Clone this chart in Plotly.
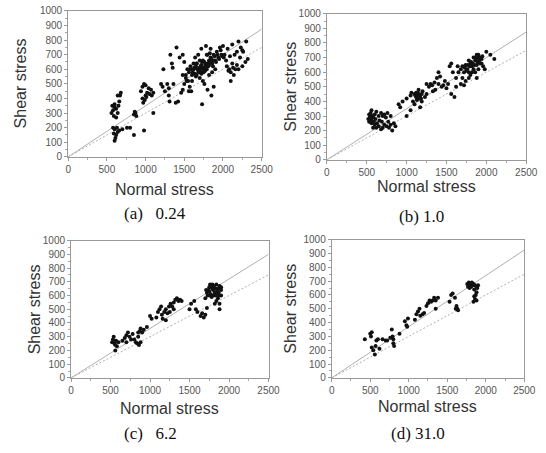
import plotly.graph_objects as go

W, H = 546, 453

# ---------- data ----------
a_x = [600, 610, 620, 590, 640, 660, 600, 630, 580, 700, 760, 800, 850, 980,
       560, 580, 600, 620, 640, 650, 660, 670, 680, 640, 600, 590, 620, 570,
       850, 870, 880, 860,
       940, 960, 980, 1000, 1000, 1020, 1050, 1070, 1100, 1100, 970, 990, 1010, 960, 1040, 1080,
       1200, 1220, 1230, 1250, 1280, 1300, 1310, 1320, 1340, 1350, 1390, 1400, 1420, 1360, 1300,
       1460, 1480, 1500, 1520, 1540, 1560, 1480, 1440, 1500, 1560, 1580, 1590, 1600, 1520,
       1620, 1650, 1680, 1700, 1720, 1740, 1760, 1780, 1800, 1820, 1840, 1860, 1880, 1900,
       1920, 1940, 1960, 1980, 2000, 1660, 1700, 1740, 1760, 1800, 1730, 1850, 1880, 1640,
       1680, 1720, 1780, 1820, 1860, 1900, 1610, 1630, 1660, 1690, 1710, 1730, 1750, 1770,
       1790, 1810, 1830, 1850, 1870, 1890, 1910, 1930, 1950, 1970, 1990, 1600, 1640, 1670,
       1700, 1750, 1790, 1830, 1870, 1690, 1720, 1760, 1800, 1840, 1550, 1570, 1620, 1650,
       2050, 2080, 2100, 2120, 2150, 2180, 2200, 2250, 2300, 2320, 2290, 2100, 2140, 2160,
       2200, 2020, 2060, 2120, 2220, 2250, 2040, 2070, 2130, 2180, 2230, 2260, 2010, 2090,
       1580, 1610, 1640, 1680, 1710, 1740, 1770, 1660, 1700, 1740, 1780, 1820, 1530, 1480]
a_y = [110, 130, 150, 160, 170, 180, 190, 200, 200, 190, 200, 200, 150, 180,
       300, 320, 340, 330, 300, 350, 380, 420, 440, 420, 360, 280, 270, 350,
       290, 300, 280, 310,
       450, 480, 500, 490, 420, 440, 430, 460, 440, 300, 370, 390, 410, 400, 470, 420,
       500, 480, 600, 450, 500, 420, 380, 700, 640, 610, 370, 750, 380, 500, 470,
       440, 460, 500, 560, 600, 450, 700, 680, 650, 580, 620, 450, 520, 540,
       600, 620, 590, 610, 630, 600, 650, 620, 640, 660, 680, 640, 700, 660,
       720, 680, 750, 700, 760, 560, 540, 520, 500, 460, 360, 420, 480, 680,
       700, 740, 760, 560, 580, 600, 580, 610, 640, 580, 620, 650, 590, 630,
       600, 620, 650, 670, 620, 690, 650, 700, 670, 730, 690, 560, 570, 600,
       660, 580, 700, 710, 660, 590, 570, 610, 700, 740, 520, 480, 640, 550,
       620, 600, 580, 640, 700, 720, 790, 730, 790, 670, 650, 520, 560, 600,
       600, 700, 740, 770, 680, 620, 660, 590, 610, 630, 750, 720, 680, 690,
       600, 570, 610, 600, 580, 610, 590, 640, 600, 660, 610, 630, 520, 560]

b_x = [520, 540, 550, 560, 530, 560, 580, 600, 620, 650, 680, 700, 720, 740, 760, 800,
       600, 620, 650, 680, 700, 720, 750, 780, 800, 820, 840, 860, 580, 560, 770, 690,
       530, 545, 555, 570, 590, 610, 630, 660,
       900, 920, 950, 1000, 1050, 1000, 1050, 1080, 1100, 1100, 1120, 1140, 1160, 1180,
       1200, 1150, 1130, 1170, 1190, 1060, 1230, 1250, 1280, 1300, 1320, 1350, 1380, 1400,
       1420, 1440, 1460, 1480, 1500, 1520, 1400, 1360, 1330, 1250, 1560, 1600, 1620,
       1540, 1560, 1580, 1620, 1650, 1680, 1700, 1720, 1740, 1760, 1780, 1800, 1820,
       1840, 1860, 1880, 1900, 1920, 1940, 1960, 1980, 2000, 2050, 2100, 1700, 1740,
       1780, 1800, 1820, 1860, 1900, 1680, 1720, 1880, 1640, 1780, 1850, 1880, 1920, 1950,
       1730, 1770, 1810, 1830, 1870, 1890, 1910, 1750, 1790, 1840, 1860, 1900, 1940,
       1110, 1130, 1150, 1170, 1190, 1140, 1160, 1120]
b_y = [280, 300, 320, 340, 260, 250, 290, 310, 330, 300, 320, 300, 310, 290, 320, 300,
       240, 220, 230, 210, 220, 240, 230, 220, 240, 200, 250, 230, 220, 270, 260, 260,
       310, 290, 270, 300, 260, 280, 250, 270,
       380, 360, 400, 300, 340, 420, 440, 400, 380, 450, 430, 460, 440, 420,
       470, 480, 410, 360, 400, 460, 430, 450, 500, 520, 510, 530, 560, 600,
       570, 500, 510, 540, 490, 520, 520, 480, 470, 520, 450, 430, 500,
       640, 660, 600, 560, 600, 620, 640, 600, 650, 620, 680, 660, 640,
       700, 680, 720, 700, 660, 690, 640, 620, 740, 720, 690, 560, 540,
       560, 580, 600, 600, 620, 520, 510, 560, 640, 600, 650, 650, 700, 710,
       630, 650, 670, 660, 690, 670, 680, 610, 640, 620, 700, 720, 660,
       440, 420, 450, 430, 450, 440, 420, 460]

c_x = [520, 530, 540, 550, 560, 570, 580, 560, 600, 540, 650, 680, 700, 720, 700, 740,
       760, 780, 800, 820, 840, 860, 880, 850, 870, 900, 880, 850, 920, 960,
       1000, 1020, 1080, 1100, 1120, 1140, 1150, 1160, 1180, 1200, 1220, 1240, 1260,
       1280, 1300, 1320, 1340, 1360, 1380, 1400, 1200, 1250, 1300,
       1500, 1520, 1560, 1580, 1600, 1640, 1660, 1680, 1700, 1720,
       1700, 1720, 1740, 1760, 1780, 1800, 1820, 1840, 1860, 1880, 1900, 1760, 1800,
       1840, 1860, 1880, 1900, 1820, 1880, 1860, 1900, 1780, 1730, 1750, 1770, 1790,
       1810, 1830, 1850, 1870, 1890, 1710, 1750, 1790, 1830, 1870]
c_y = [260, 280, 300, 250, 240, 270, 230, 200, 260, 270, 270, 290, 310, 330, 260, 300,
       280, 320, 280, 260, 250, 240, 260, 300, 340, 330, 360, 330, 350, 370,
       450, 430, 440, 480, 500, 520, 460, 430, 480, 500, 470, 520, 540,
       520, 550, 570, 580, 560, 570, 560, 420, 480, 500,
       500, 540, 560, 500, 480, 450, 470, 440, 460, 510,
       580, 620, 640, 600, 660, 640, 620, 680, 650, 670, 640, 680, 600,
       560, 580, 540, 600, 540, 500, 620, 660, 590, 600, 630, 610, 650,
       670, 650, 630, 600, 650, 640, 660, 680, 600, 620]

d_x = [430, 500, 520, 510, 520, 540, 560, 570, 580, 600, 620, 660, 700, 720, 760,
       780, 790, 800, 810, 800, 880, 950, 970, 990, 980, 1080, 1100, 1120, 1140, 1150,
       1180, 1200, 1230, 1250, 1270, 1290, 1310, 1330, 1350, 1380, 1350,
       1530, 1550, 1570, 1600, 1620, 1630, 1640, 1610,
       1760, 1780, 1800, 1820, 1840, 1860, 1880, 1900, 1790, 1810, 1850, 1880, 1850,
       1860, 1880, 1840, 1870, 1770, 1830, 1890]
d_y = [280, 320, 330, 300, 220, 200, 170, 230, 270, 280, 210, 280, 270, 270, 290,
       350, 300, 250, 230, 280, 320, 410, 380, 430, 370, 420, 460, 480, 500, 450,
       460, 470, 520, 540, 560, 550, 560, 580, 560, 580, 500,
       550, 600, 610, 580, 520, 500, 490, 500,
       680, 690, 670, 690, 680, 670, 660, 670, 650, 660, 640, 620, 590,
       570, 560, 550, 600, 660, 670, 650]

solid_slope = [0.35, 0.35, 0.36, 0.37]
dotted_slope = [0.30, 0.30, 0.30, 0.30]
captions = ["(a)   0.24", "(b) 1.0", "(c)   6.2", "(d) 31.0"]
x_ticks = [0, 500, 1000, 1500, 2000, 2500]
y_ticks = [0, 100, 200, 300, 400, 500, 600, 700, 800, 900, 1000]

panels = [(a_x, a_y), (b_x, b_y), (c_x, c_y), (d_x, d_y)]

# plot-area boxes in pixels: left, right, top, bottom
boxes = [(67, 266, 5, 155), (333, 538, 8, 158), (70, 273, 241, 382), (338, 536, 240, 382)]
ytitle_x = [18, 296, 32, 296]
xtitle_y = [188, 185, 413, 411]
cap_pos = [(156, 213), (430, 216), (152, 439), (427, 439)]


def fx(p):
    return p / W


def fy(p):
    return 1 - p / H


fig = go.Figure()
axis_font = dict(family="Liberation Sans, Arial, sans-serif", size=10, color="#555")
annotations = []

for i, ((xs, ys), (l, r, t, b)) in enumerate(zip(panels, boxes)):
    n = "" if i == 0 else str(i + 1)
    xa, ya = "x" + n, "y" + n
    fig.add_trace(go.Scatter(x=[0, 2500], y=[0, 2500 * solid_slope[i]], mode="lines",
                             line=dict(color="#b0b0b0", width=1), xaxis=xa, yaxis=ya,
                             showlegend=False, hoverinfo="skip"))
    fig.add_trace(go.Scatter(x=[0, 2500], y=[0, 2500 * dotted_slope[i]], mode="lines",
                             line=dict(color="#b0b0b0", width=1, dash="2px,2px"), xaxis=xa, yaxis=ya,
                             showlegend=False, hoverinfo="skip"))
    fig.add_trace(go.Scatter(x=xs, y=ys, mode="markers",
                             marker=dict(color="#111", size=4, line=dict(width=0)),
                             xaxis=xa, yaxis=ya, showlegend=False))
    fig.layout["xaxis" + n] = dict(
        domain=[fx(l), fx(r)], range=[0, 2500], anchor=ya, tickvals=x_ticks,
        showgrid=False, zeroline=False, showline=True, linecolor="#999", linewidth=1,
        mirror=True, ticks="outside", ticklen=3, tickcolor="#999", tickfont=axis_font,
        minor=dict(ticks="outside", ticklen=2, tickcolor="#aaa", dtick=250), fixedrange=True)
    fig.layout["yaxis" + n] = dict(
        domain=[fy(b), fy(t)], range=[0, 1000], anchor=xa, tickvals=y_ticks,
        showgrid=False, zeroline=False, showline=True, linecolor="#999", linewidth=1,
        mirror=True, ticks="outside", ticklen=3, tickcolor="#999", tickfont=axis_font,
        minor=dict(ticks="outside", ticklen=2, tickcolor="#aaa", dtick=50), fixedrange=True)
    annotations.append(dict(text="Shear stress", x=fx(ytitle_x[i]), y=fy((t + b) / 2),
                            xref="paper", yref="paper", showarrow=False, textangle=-90,
                            font=dict(family="Liberation Sans, Arial, sans-serif", size=16, color="#333"),
                            xanchor="center", yanchor="middle"))
    annotations.append(dict(text="Normal stress", x=fx((l + r) / 2), y=fy(xtitle_y[i]),
                            xref="paper", yref="paper", showarrow=False,
                            font=dict(family="Liberation Sans, Arial, sans-serif", size=16, color="#333"),
                            xanchor="center", yanchor="middle"))
    annotations.append(dict(text=captions[i], x=fx(cap_pos[i][0]), y=fy(cap_pos[i][1]),
                            xref="paper", yref="paper", showarrow=False,
                            font=dict(family="Liberation Serif, Times New Roman, serif", size=17, color="#111"),
                            xanchor="center", yanchor="middle"))

fig.update_layout(width=W, height=H, margin=dict(l=0, r=0, t=0, b=0),
                  paper_bgcolor="white", plot_bgcolor="white", annotations=annotations)

fig.write_html("out.html", config={"displayModeBar": False},
               post_script="document.body.style.margin='0';document.body.style.overflow='hidden';")
